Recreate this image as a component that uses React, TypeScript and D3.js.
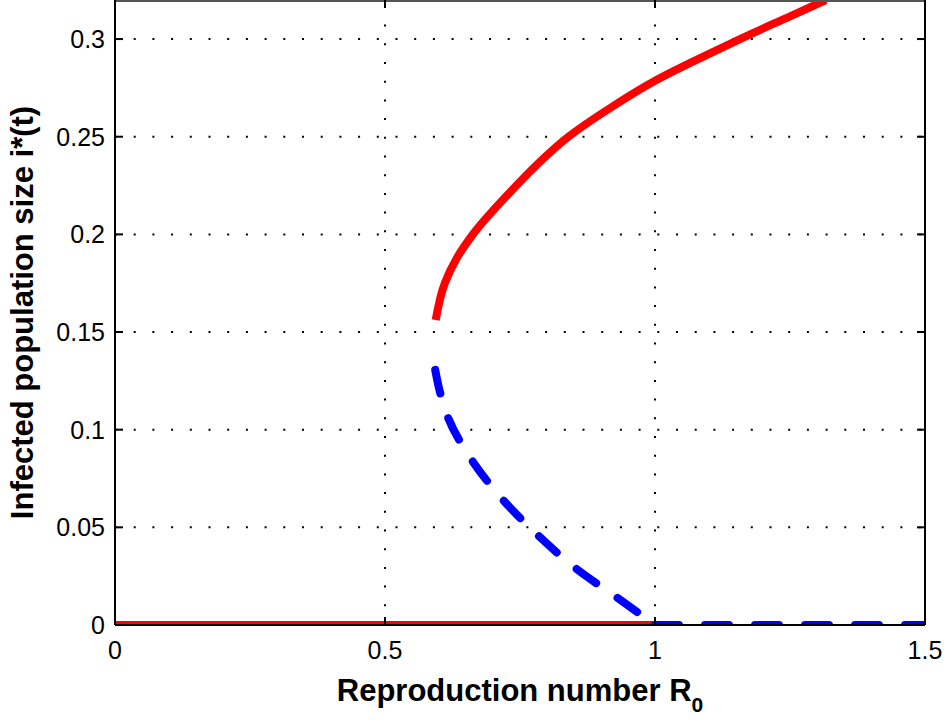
import React from "react";
import * as d3 from "d3";

// stable endemic branch (upper, solid red)
const upperR = [0.5939, 0.6109, 0.6331, 0.6633, 0.7285, 0.7806, 0.8393, 0.917, 1.0026, 1.0952, 1.1574, 1.2511, 1.3163];
const upperI = [0.1562, 0.1751, 0.1879, 0.2002, 0.2207, 0.2355, 0.2499, 0.2647, 0.279, 0.2918, 0.3, 0.3118, 0.32];

// unstable endemic branch (lower, dashed blue)
const lowerR = [0.593, 0.602, 0.617, 0.663, 0.722, 0.787, 0.857, 0.931, 1.0];
const lowerI = [0.1306, 0.119, 0.106, 0.0835, 0.063, 0.045, 0.0282, 0.0138, 0];

// disease free equilibrium
const dfeStableR = [0, 1];
const dfeUnstableR = [1, 1.5];

const xTicks = [0, 0.5, 1, 1.5];
const xTickLabels = ["0", "0.5", "1", "1.5"];
const yTicks = [0, 0.05, 0.1, 0.15, 0.2, 0.25, 0.3];
const yTickLabels = ["0", "0.05", "0.1", "0.15", "0.2", "0.25", "0.3"];

const W = 944;
const H = 724;
const m = { left: 115, right: 19, top: 0, bottom: 99 };

const App = () => {
  const x = d3.scaleLinear().domain([0, 1.5]).range([m.left, W - m.right]);
  const y = d3.scaleLinear().domain([0, 0.32]).range([H - m.bottom, m.top]);
  // branches are smooth as R(i), so interpolate along y
  const branch = d3
    .line<[number, number]>()
    .x(d => x(d[0]))
    .y(d => y(d[1]))
    .curve(d3.curveMonotoneY);
  const flat = d3
    .line<[number, number]>()
    .x(d => x(d[0]))
    .y(d => y(d[1]));

  const upper = branch(upperR.map((r, i) => [r, upperI[i]] as [number, number]).reverse());
  const lower = branch(lowerR.map((r, i) => [r, lowerI[i]]));
  const dfeS = flat(dfeStableR.map(r => [r, 0]));
  const dfeU = flat(dfeUnstableR.map(r => [r, 0]));

  const x0 = x.range()[0], x1 = x.range()[1];
  const y0 = y.range()[0], y1 = y.range()[1];
  const font = "'Liberation Sans', Arial, Helvetica, sans-serif";

  return (
    <svg width={W} height={H} style={{ position: "absolute", left: 0, top: 0 }} fontFamily={font}>
      <defs>
        <clipPath id="plot">
          <rect x={x0} y={y1} width={x1 - x0} height={y0 - y1} />
        </clipPath>
      </defs>
      <rect width={W} height={H} fill="#fff" />
      {/* grid */}
      <g stroke="#000" strokeWidth={2} strokeDasharray="2 16.7">
        {xTicks.slice(1, -1).map(t => (
          <line key={"gx" + t} x1={x(t)} x2={x(t)} y1={y0} y2={y1} />
        ))}
        {yTicks.slice(1).map(t => (
          <line key={"gy" + t} x1={x0} x2={x1} y1={y(t)} y2={y(t)} />
        ))}
      </g>
      <g clipPath="url(#plot)" fill="none">
        <path d={dfeS!} stroke="#ff0000" strokeWidth={8} />
        <path d={upper!} stroke="#ff0000" strokeWidth={8} />
        <path d={lower!} stroke="#0000ff" strokeWidth={8} strokeLinecap="round" strokeDasharray="24 26" />
        <path d={dfeU!} stroke="#0000ff" strokeWidth={8} strokeLinecap="round" strokeDasharray="24 26" />
      </g>
      {/* box */}
      <g stroke="#000" strokeWidth={2} fill="none">
        <line x1={x0} x2={x0} y1={y0} y2={y1} />
        <line x1={x0} x2={x1} y1={y0} y2={y0} />
        <line x1={x1} x2={x1} y1={y0} y2={y1} />
        <line x1={x0} x2={x1} y1={y1 + 1} y2={y1 + 1} stroke="#555" />
        {xTicks.map(t => (
          <g key={"tx" + t}>
            <line x1={x(t)} x2={x(t)} y1={y0} y2={y0 - 8} />
            <line x1={x(t)} x2={x(t)} y1={y1} y2={y1 + 8} />
          </g>
        ))}
        {yTicks.map(t => (
          <g key={"ty" + t}>
            <line x1={x0} x2={x0 + 8} y1={y(t)} y2={y(t)} />
            <line x1={x1} x2={x1 - 8} y1={y(t)} y2={y(t)} />
          </g>
        ))}
      </g>
      <g fontSize={25} fill="#000">
        {xTicks.map((t, i) => (
          <text key={"lx" + t} x={x(t)} y={y0 + 34} textAnchor="middle">
            {xTickLabels[i]}
          </text>
        ))}
        {yTicks.map((t, i) => (
          <text key={"ly" + t} x={x0 - 10} y={y(t) + 9} textAnchor="end">
            {yTickLabels[i]}
          </text>
        ))}
      </g>
      <text x={(x0 + x1) / 2} y={701} textAnchor="middle" fontSize={31} fontWeight="bold">
        Reproduction number R<tspan fontSize={21} dy={11}>0</tspan>
      </text>
      <text
        transform={`translate(33, ${(y0 + y1) / 2}) rotate(-90)`}
        textAnchor="middle"
        fontSize={31}
        fontWeight="bold"
      >
        Infected population size i*(t)
      </text>
    </svg>
  );
};

export default App;
